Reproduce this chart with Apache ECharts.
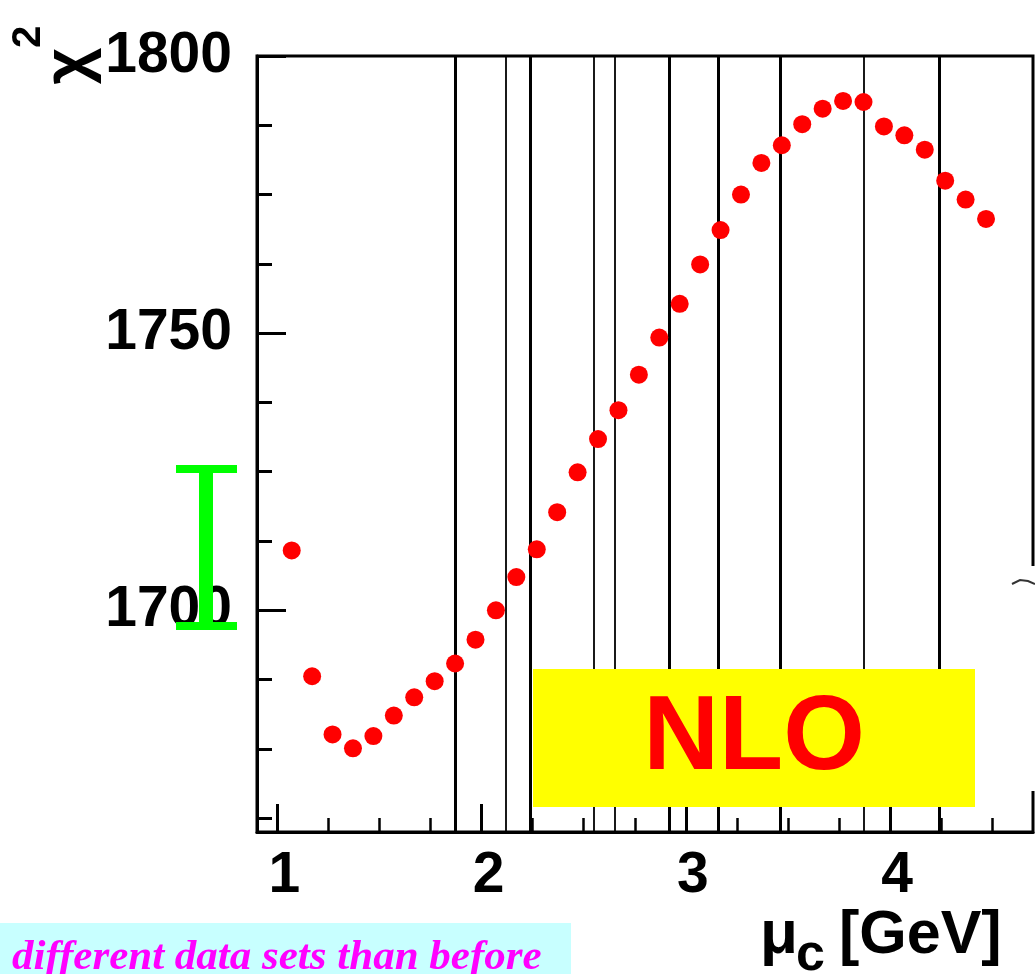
<!DOCTYPE html>
<html>
<head>
<meta charset="utf-8">
<script src="https://cdn.jsdelivr.net/npm/echarts@6/dist/echarts.min.js"></script>
<style>
html,body{margin:0;padding:0;background:#ffffff;}
#chart{width:1035px;height:974px;}
</style>
</head>
<body>
<div id="chart"></div>
<script>
// ---- data ----
const muC = [1.07,1.17,1.27,1.37,1.47,1.57,1.67,1.77,1.87,1.97,2.07,2.17,2.27,2.37,2.47,2.57,2.67,2.77,2.87,2.97,3.07,3.17,3.27,3.37,3.47,3.57,3.67,3.77,3.87,3.97,4.07,4.17,4.27,4.37,4.47];
const chi2 = [1710.8,1688.1,1677.6,1675.1,1677.3,1681.0,1684.3,1687.2,1690.4,1694.7,1700.0,1706.0,1711.0,1717.7,1724.9,1730.9,1736.1,1742.5,1749.2,1755.3,1762.4,1768.6,1775.0,1780.7,1783.9,1787.7,1790.5,1791.9,1791.7,1787.3,1785.7,1783.1,1777.5,1774.1,1770.6];
const thickLines = [1.871, 2.236, 2.915, 3.162, 3.464, 4.243];
const thinLines = [2.121, 2.550, 2.646, 3.873];
const xMajorTicks = [1, 2, 3, 4];
const xMinorTicks = [1.25,1.5,1.75,2.25,2.5,2.75,3.25,3.5,3.75,4.25,4.5];
const yMajorTicks = [1700, 1750, 1800];
const yMinorTicks = [1662.5,1675,1687.5,1712.5,1725,1737.5,1762.5,1775,1787.5];
const xRange = [0.9, 4.7];
const yRange = [1660, 1800];

const chart = echarts.init(document.getElementById('chart'), null, {renderer:'canvas'});
const F = 'Liberation Sans, Arial, Helvetica, sans-serif';
const axisCommon = {
  type:'value', splitLine:{show:false}
};
const option = {
  backgroundColor:'#ffffff',
  animation:false,
  grid:{left:257, top:56, right:2, bottom:142, show:true, borderColor:'#000', borderWidth:3, backgroundColor:'transparent'},
  xAxis:[
    Object.assign({}, axisCommon, {
      min:xRange[0], max:xRange[1], position:'bottom',
      axisLine:{show:true, lineStyle:{color:'#000', width:3}},
      axisTick:{show:true, inside:true, length:14, customValues:xMinorTicks, lineStyle:{color:'#000', width:2.5}},
      axisLabel:{show:false}
    }),
    Object.assign({}, axisCommon, {
      min:xRange[0], max:xRange[1], position:'bottom',
      axisLine:{show:false},
      axisTick:{show:true, inside:true, length:28, customValues:xMajorTicks, lineStyle:{color:'#000', width:3}},
      axisLabel:{show:true, customValues:xMajorTicks, margin:16, color:'#000', fontSize:57, fontWeight:'bold', fontFamily:F, lineHeight:57, padding:[0,0,0,14],
        formatter:v=>String(v)}
    })
  ],
  yAxis:[
    Object.assign({}, axisCommon, {
      min:yRange[0], max:yRange[1], position:'left',
      axisLine:{show:true, lineStyle:{color:'#000', width:3}},
      axisTick:{show:true, inside:true, length:15, customValues:yMinorTicks, lineStyle:{color:'#000', width:3}},
      axisLabel:{show:false}
    }),
    Object.assign({}, axisCommon, {
      min:yRange[0], max:yRange[1], position:'left',
      axisLine:{show:false},
      axisTick:{show:true, inside:true, length:29, customValues:yMajorTicks, lineStyle:{color:'#000', width:3}},
      axisLabel:{show:true, customValues:yMajorTicks, margin:25, color:'#000', fontSize:57, fontWeight:'bold', fontFamily:F,
        formatter:v=>String(v)}
    })
  ],
  series:[
    {
      type:'line', data:[], xAxisIndex:0, yAxisIndex:0, z:1,
      markLine:{silent:true, symbol:['none','none'], label:{show:false},
        lineStyle:{color:'#000', width:3, type:'solid'},
        data:thickLines.map(v=>({xAxis:v}))}
    },
    {
      type:'line', data:[], xAxisIndex:0, yAxisIndex:0, z:1,
      markLine:{silent:true, symbol:['none','none'], label:{show:false},
        lineStyle:{color:'#000', width:1.8, type:'solid'},
        data:thinLines.map(v=>({xAxis:v}))}
    },
    {
      type:'scatter', xAxisIndex:0, yAxisIndex:0, z:5,
      symbol:'circle', symbolSize:18,
      itemStyle:{color:'#ff0000', opacity:1},
      data:muC.map((x,i)=>[x, chi2[i]])
    }
  ],
  graphic:[
    // gap in right frame
    {type:'rect', z:100, shape:{x:1028, y:566, width:7, height:225}, style:{fill:'#ffffff'}},
    {type:'polyline', z:101, shape:{points:[[1012,584],[1020,580],[1028,581],[1035,584]]}, style:{stroke:'#333', lineWidth:2, fill:null}},
    // NLO box
    {type:'rect', z:100, shape:{x:533, y:669, width:442, height:138}, style:{fill:'#ffff00'}},
    {type:'text', z:101, x:754, y:740, style:{text:'NLO', fill:'#ff0000', font:'bold 105px '+F, align:'center', verticalAlign:'middle'}},
    // green I bar
    {type:'rect', z:100, shape:{x:176, y:465, width:61, height:8}, style:{fill:'#00ff00'}},
    {type:'rect', z:100, shape:{x:199, y:470, width:14, height:155}, style:{fill:'#00ff00'}},
    {type:'rect', z:100, shape:{x:176, y:622, width:61, height:8}, style:{fill:'#00ff00'}},
    // y title chi^2 (rotated)
    {type:'text', z:100, x:70, y:66, rotation:Math.PI/2, style:{text:'χ', fill:'#000', font:'bold 64px '+F, align:'center', verticalAlign:'middle'}},
    {type:'text', z:100, x:29, y:37, rotation:Math.PI/2, style:{text:'2', fill:'#000', font:'bold 40px '+F, align:'center', verticalAlign:'middle'}},
    // x title
    {type:'text', z:100, x:760, y:936, style:{text:'μ', fill:'#000', font:'bold 62px '+F, align:'left', verticalAlign:'middle'}},
    {type:'text', z:100, x:796, y:956, style:{text:'c', fill:'#000', font:'bold 52px '+F, align:'left', verticalAlign:'middle'}},
    {type:'text', z:100, x:839, y:936, style:{text:'[GeV]', fill:'#000', font:'bold 61px '+F, align:'left', verticalAlign:'middle'}},
    // bottom note
    {type:'rect', z:100, shape:{x:0, y:923, width:571, height:51}, style:{fill:'#c8ffff'}},
    {type:'text', z:101, x:12, y:958, style:{text:'different data sets than before', fill:'#ff00ff', font:'italic bold 43px Liberation Serif, Times New Roman, serif', align:'left', verticalAlign:'middle'}}
  ]
};
chart.setOption(option);
</script>
</body>
</html>
